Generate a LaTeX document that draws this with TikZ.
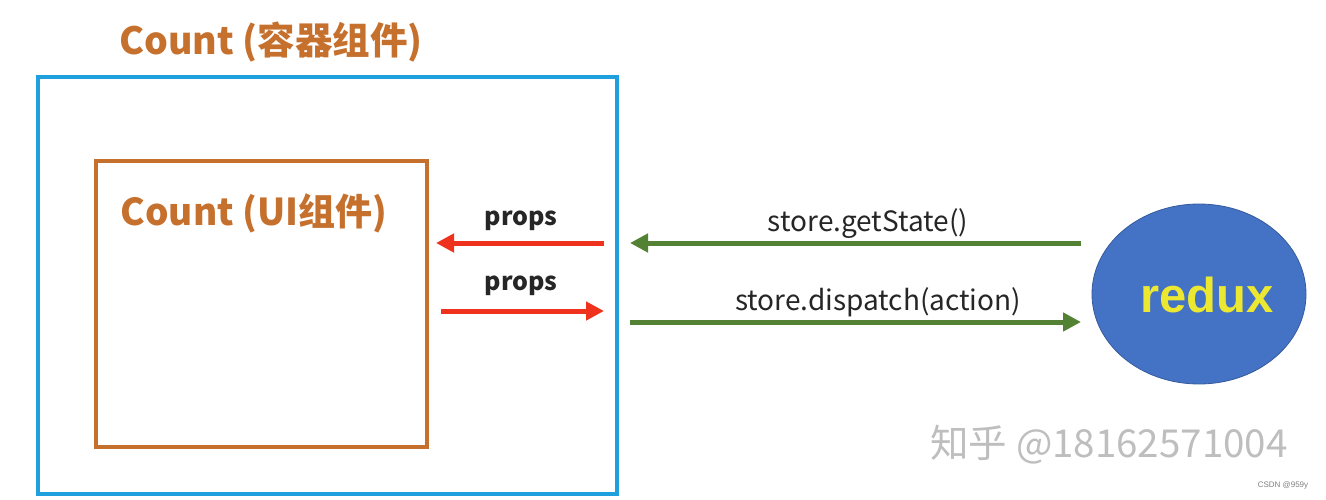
\documentclass[tikz,border=0pt]{standalone}
\usepackage{fontspec}
\setmainfont{Liberation Sans}
\newfontfamily\cjk{Noto Sans CJK SC}
\usetikzlibrary{arrows.meta,shapes.geometric}
\definecolor{boxblue}{RGB}{30,160,222}
\definecolor{boxorange}{RGB}{198,112,46}
\definecolor{arrred}{RGB}{238,50,30}
\definecolor{arrgreen}{RGB}{84,130,53}
\definecolor{reduxblue}{RGB}{68,114,196}
\definecolor{reduxyellow}{RGB}{236,232,50}
\definecolor{wmgray}{RGB}{190,190,190}
\tikzset{
  outerbox/.style={draw=boxblue,line width=4pt,minimum width=579pt,minimum height=417pt,inner sep=0pt},
  innerbox/.style={draw=boxorange,line width=4pt,minimum width=331pt,minimum height=286pt,inner sep=0pt},
  titletext/.style={text=boxorange,font=\cjk\bfseries\fontsize{37.5}{42}\selectfont,inner sep=0pt},
  labeltext/.style={text=black!85,font=\cjk\bfseries\fontsize{25}{29}\selectfont,inner sep=0pt},
  codetext/.style={text=black!85,font=\cjk\fontsize{28}{32}\selectfont,inner sep=0pt},
  redarrow/.style={draw=arrred,line width=5pt,-{Triangle[length=18pt,width=18pt]}},
  greenarrow/.style={draw=arrgreen,line width=5pt,-{Triangle[length=18pt,width=18pt]}},
  reduxnode/.style={ellipse,fill=reduxblue,draw=reduxblue!80!black,line width=0.8pt,minimum width=214pt,minimum height=180pt,inner sep=0pt},
}
\begin{document}
\begin{tikzpicture}[x=1pt,y=-1pt]
\useasboundingbox[fill=white] (0,0) rectangle (1326,500);
% boxes
\node[outerbox] (outer) at (327.5,285.5) {};
\node[innerbox] (inner) at (261.5,304) {};
\node[titletext] (title) at (271,42) {Count (容器组件)};
\node[titletext,font=\cjk\bfseries\fontsize{37}{42}\selectfont] (uititle) at (254,213) {Count (UI组件)};
% redux
\node[reduxnode] (redux) at (1199,294) {};
\node[text=reduxyellow,font=\bfseries\fontsize{49}{54}\selectfont,inner sep=0pt] (reduxlabel) at (1207,295) {redux};
% arrow end points
\coordinate (r1s) at (604,243);
\coordinate (r1e) at (436,243);
\coordinate (r2s) at (441,311);
\coordinate (r2e) at (604,311);
\coordinate (g1s) at (1081,243);
\coordinate (g1e) at (630,243);
\coordinate (g2s) at (630,322);
\coordinate (g2e) at (1081,322);
\draw[redarrow] (r1s) -- (r1e);
\draw[redarrow] (r2s) -- (r2e);
\draw[greenarrow] (g1s) -- (g1e);
\draw[greenarrow] (g2s) -- (g2e);
% labels
\node[labeltext] (props1) at (521,221) {props};
\node[labeltext] (props2) at (521,286) {props};
\node[codetext] (getstate) at (868,224) {store.getState()};
\node[codetext] (dispatch) at (878,302) {store.dispatch(action)};
% watermark
\node[text=wmgray,font=\cjk\fontsize{38.5}{42}\selectfont,inner sep=0pt] (wm) at (1109,445) {知乎 @18162571004};
\node[text=gray,font=\fontsize{8}{10}\selectfont,inner sep=0pt] (csdn) at (1283,485) {CSDN @959y};
\end{tikzpicture}
\end{document}
